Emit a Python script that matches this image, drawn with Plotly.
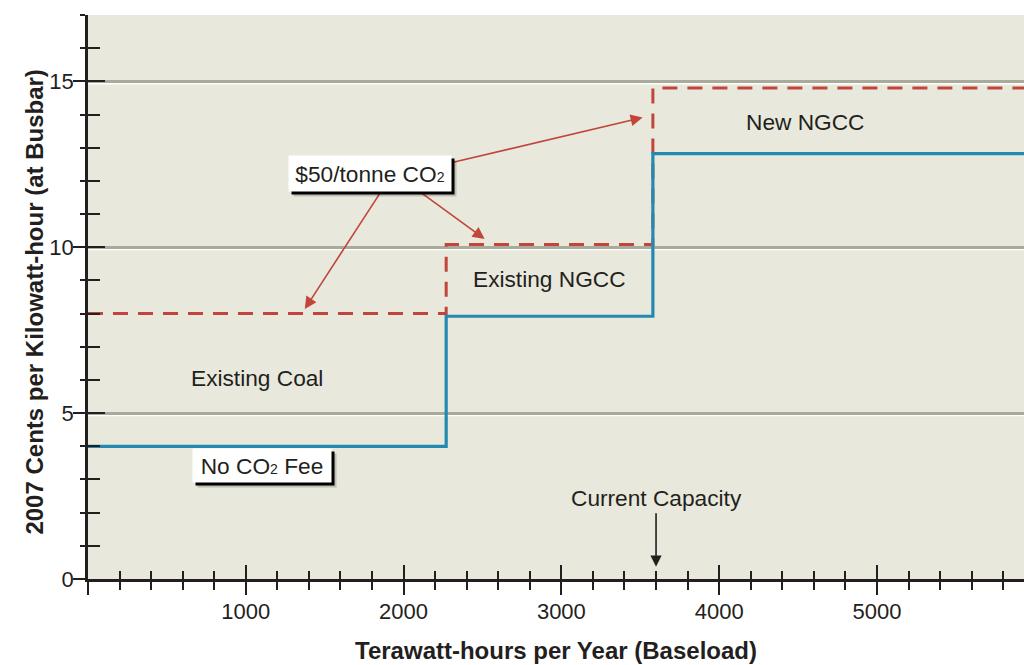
import plotly.graph_objects as go

# ---- data ----
step_edges = [0, 2270, 3580, 6000]          # TWh/yr boundaries of the supply steps
cost_no_fee = [4.0, 7.92, 12.82]             # cents/kWh, no CO2 fee
cost_with_fee = [8.0, 10.08, 14.8]           # cents/kWh, $50/tonne CO2
segment_labels = ["Existing Coal", "Existing NGCC", "New NGCC"]
x_tick_vals = [0, 1000, 2000, 3000, 4000, 5000]
x_tick_text = ["", "1000", "2000", "3000", "4000", "5000"]
y_tick_vals = [0, 5, 10, 15]
current_capacity = 3600

INK = "#231f20"
BG = "#e8e9dc"
GRID = "#a8ab9a"
BLUE = "#2389b0"
RED = "#c1453a"
FONT = "Liberation Sans, Arial, sans-serif"
SUB2 = '<span style="font-size:14px">2</span>'


def steps(edges, vals):
    xs, ys = [], []
    for i, v in enumerate(vals):
        xs += [edges[i], edges[i + 1]]
        ys += [v, v]
    return xs, ys


fig = go.Figure()
xs, ys = steps(step_edges, cost_with_fee)
fig.add_trace(go.Scatter(x=xs, y=ys, mode="lines",
                         line=dict(color=RED, width=3, dash="15px,10px"),
                         hoverinfo="skip", showlegend=False))
xs, ys = steps(step_edges, cost_no_fee)
fig.add_trace(go.Scatter(x=xs, y=ys, mode="lines",
                         line=dict(color=BLUE, width=3.2),
                         hoverinfo="skip", showlegend=False))
# invisible trace on the overlay axes so they render
fig.add_trace(go.Scatter(x=[None], y=[None], xaxis="x2", yaxis="y2",
                         showlegend=False, hoverinfo="skip"))

XR = [0, 5932]
YR = [0, 17]

fig.update_layout(
    width=1024, height=665,
    margin=dict(l=88, r=0, t=15, b=86),
    paper_bgcolor="white", plot_bgcolor=BG,
    font=dict(family=FONT, color=INK, size=22),
    showlegend=False,
    xaxis=dict(range=XR, tickvals=x_tick_vals, ticktext=x_tick_text,
               automargin=False,
               ticks="outside", ticklen=13, tickwidth=2, tickcolor=INK,
               minor=dict(dtick=200, tick0=0, ticks="outside", ticklen=8,
                          tickwidth=2, tickcolor=INK, showgrid=False),
               showline=True, linewidth=2.5, linecolor=INK, showgrid=False,
               zeroline=False, tickfont=dict(size=22, color=INK),
               ticklabelstandoff=-2,
               title=dict(text="<b>Terawatt-hours per Year (Baseload)</b>",
                          font=dict(size=24, color=INK), standoff=20)),
    yaxis=dict(range=YR, tickvals=y_tick_vals, automargin=False,
               ticks="outside", ticklen=12, tickwidth=2, tickcolor=INK,
               minor=dict(dtick=1, tick0=0, ticks="outside", ticklen=5.5,
                          tickwidth=2, tickcolor=INK, showgrid=False),
               showline=True, linewidth=2.5, linecolor=INK,
               showgrid=True, gridcolor=GRID, gridwidth=2.5,
               zeroline=False, tickfont=dict(size=22, color=INK),
               ticklabelstandoff=-5),
    xaxis2=dict(range=XR, overlaying="x", anchor="y2", side="bottom",
                automargin=False,
                tickvals=x_tick_vals, ticks="inside", ticklen=14, tickwidth=2,
                tickcolor=INK, showticklabels=False, showgrid=False,
                zeroline=False, showline=False,
                minor=dict(dtick=200, tick0=0, ticks="inside", ticklen=8,
                           tickwidth=2, tickcolor=INK, showgrid=False)),
    yaxis2=dict(range=YR, overlaying="y", anchor="x2", side="left",
                automargin=False,
                tickvals=y_tick_vals, ticks="inside", ticklen=17, tickwidth=2,
                tickcolor=INK, showticklabels=False, showgrid=False,
                zeroline=False, showline=False,
                minor=dict(dtick=1, tick0=0, ticks="inside", ticklen=11.5,
                           tickwidth=2, tickcolor=INK, showgrid=False)),
)

# y-axis title as a rotated annotation (positioned slightly below plot centre)
fig.add_annotation(xref="paper", yref="paper", x=0, y=0.491, xshift=-69,
                   text="<b>2007 Cents per Kilowatt-hour (at Busbar)</b>",
                   textangle=-90, showarrow=False, font=dict(size=24, color=INK))

# white highlight under each gridline
for g in y_tick_vals[1:]:
    fig.add_shape(type="line", xref="x", yref="y", x0=XR[0], x1=XR[1],
                  y0=g - 0.07, y1=g - 0.07, line=dict(color="white", width=1.5),
                  layer="below")

# segment labels
label_pos = [(1070, 6.05), (2926, 9.04), (4547, 13.79)]
for txt, (lx, ly) in zip(segment_labels, label_pos):
    fig.add_annotation(x=lx, y=ly, text=txt, showarrow=False,
                       font=dict(size=22.7, color=INK))

# arrows from the $50/tonne box
arrow_specs = [((2305, 12.55), (3515, 13.91)),
               ((2103, 11.67), (2514, 10.25)),
               ((1856, 11.67), (1374, 8.14))]
for (sx, sy), (tx, ty) in arrow_specs:
    fig.add_annotation(x=tx, y=ty, ax=sx, ay=sy, axref="x", ayref="y",
                       text="", showarrow=True, arrowhead=2, arrowsize=1.5,
                       arrowwidth=1.6, arrowcolor=RED, standoff=0, startstandoff=0)


def boxed(x, y, text, w, h, pad):
    # soft shadow, hard shadow, then white box
    fig.add_annotation(x=x, y=y, text="", showarrow=False, width=w, height=h,
                       borderpad=pad, bgcolor="rgba(0,0,0,0.18)", xshift=5, yshift=-5)
    fig.add_annotation(x=x, y=y, text="", showarrow=False, width=w, height=h,
                       borderpad=pad, bgcolor="black", xshift=3, yshift=-3)
    fig.add_annotation(x=x, y=y, text=text, showarrow=False, width=w, height=h,
                       borderpad=pad, bgcolor="white", font=dict(size=22.7, color=INK))


boxed(1786, 12.22, "$50/tonne CO" + SUB2, 152, 25, 5)
boxed(1102, 3.42, "No CO" + SUB2 + " Fee", 130, 25, 4)

# current capacity marker
fig.add_annotation(x=current_capacity, y=0.37, ax=current_capacity, ay=2.03,
                   axref="x", ayref="y", text="", showarrow=True, arrowhead=2,
                   arrowsize=1.4, arrowwidth=1.6, arrowcolor=INK,
                   standoff=0, startstandoff=0)
fig.add_annotation(x=current_capacity, y=2.43, text="Current Capacity",
                   showarrow=False, font=dict(size=22.7, color=INK))

# remove the default page margin so the 1024x665 figure fills the window exactly
fig.write_html("out.html",
               config={"displayModeBar": False},
               post_script="document.body.style.margin='0';"
                           "document.body.style.overflow='hidden';")
